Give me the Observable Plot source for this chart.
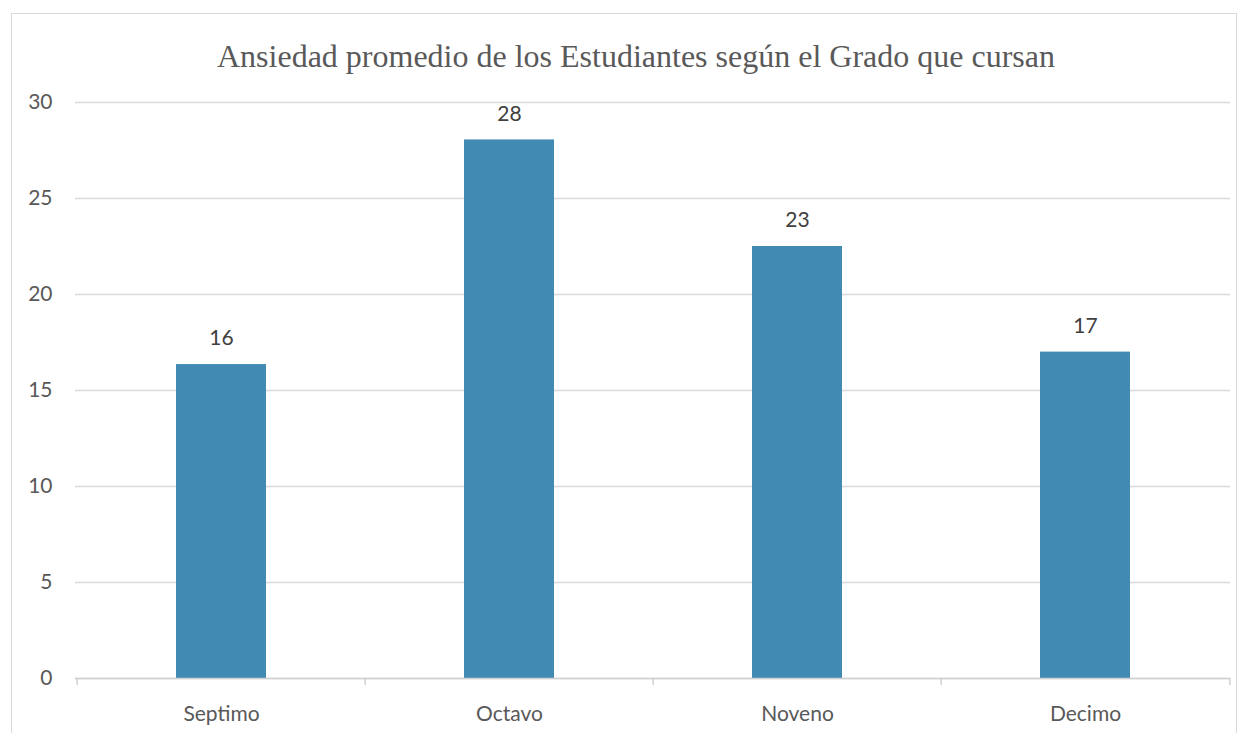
<!DOCTYPE html>
<html>
<head>
<meta charset="utf-8">
<script src="https://cdn.jsdelivr.net/npm/d3@7"></script>
<script src="https://cdn.jsdelivr.net/npm/@observablehq/plot@0.6"></script>
<style>
  html, body { margin: 0; padding: 0; background: #fff; }
  #wrap { position: relative; width: 1248px; height: 733px; overflow: hidden; background: #fff; }
  #frame { position: absolute; left: 11px; top: 13px; width: 1226px; height: 740px; border: 1px solid #d9d9d9; box-sizing: border-box; }
  #title { position: absolute; left: 0; width: 1272px; top: 35px; text-align: center; font-family: "Liberation Serif", "Times New Roman", serif; font-size: 32px; color: #595959; line-height: 42px; }
  #chart { position: absolute; left: 0; top: 0; }
</style>
</head>
<body>
<div id="wrap">
  <div id="frame"></div>
  <div id="title">Ansiedad promedio de los Estudiantes según el Grado que cursan</div>
  <div id="chart"></div>
</div>
<script>
const grades = ["Septimo", "Octavo", "Noveno", "Decimo"];
const anxiety = [16.35, 28.05, 22.5, 17.0];
const valueLabels = ["16", "28", "23", "17"];
const yTicks = [0, 5, 10, 15, 20, 25, 30];

const data = grades.map((g, i) => ({grade: g, value: anxiety[i], label: valueLabels[i]}));

const width = 1248, height = 733;
const mL = 75, mR = 18;
const half = (width - mL - mR) / grades.length / 2;

const chart = Plot.plot({
  width, height,
  marginLeft: mL, marginRight: mR, marginTop: 102, marginBottom: 55,
  style: {background: "transparent", fontFamily: "Lato, 'Open Sans', sans-serif"},
  x: {domain: grades, paddingInner: 0.688, paddingOuter: 0.344, label: null},
  y: {domain: [0, 30], label: null},
  marks: [
    Plot.gridY(yTicks, {stroke: "#d9d9d9", strokeOpacity: 1, strokeWidth: 1.3}),
    Plot.barY(data, {x: "grade", y: "value", fill: "#418ab3"}),
    Plot.ruleY([0], {stroke: "#d0d0d0", strokeWidth: 1.5}),
    Plot.ruleX(grades, {x: d => d, y1: 0, y2: -0.37, dx: -half, stroke: "#d0d0d0", strokeWidth: 1.5}),
    Plot.ruleX([grades[grades.length - 1]], {x: d => d, y1: 0, y2: -0.37, dx: half, stroke: "#d0d0d0", strokeWidth: 1.5}),
    Plot.text(data, {x: "grade", y: "value", text: "label", dy: -26, fontSize: 21, fill: "#404040"}),
    Plot.axisY(yTicks, {tickSize: 0, tickPadding: 0, dx: -23, fontSize: 21, color: "#595959", textAnchor: "end", label: null}),
    Plot.axisX({tickSize: 0, tickPadding: 0, dy: 28, fontSize: 21, color: "#595959", label: null})
  ]
});
document.getElementById("chart").appendChild(chart);
</script>
</body>
</html>
